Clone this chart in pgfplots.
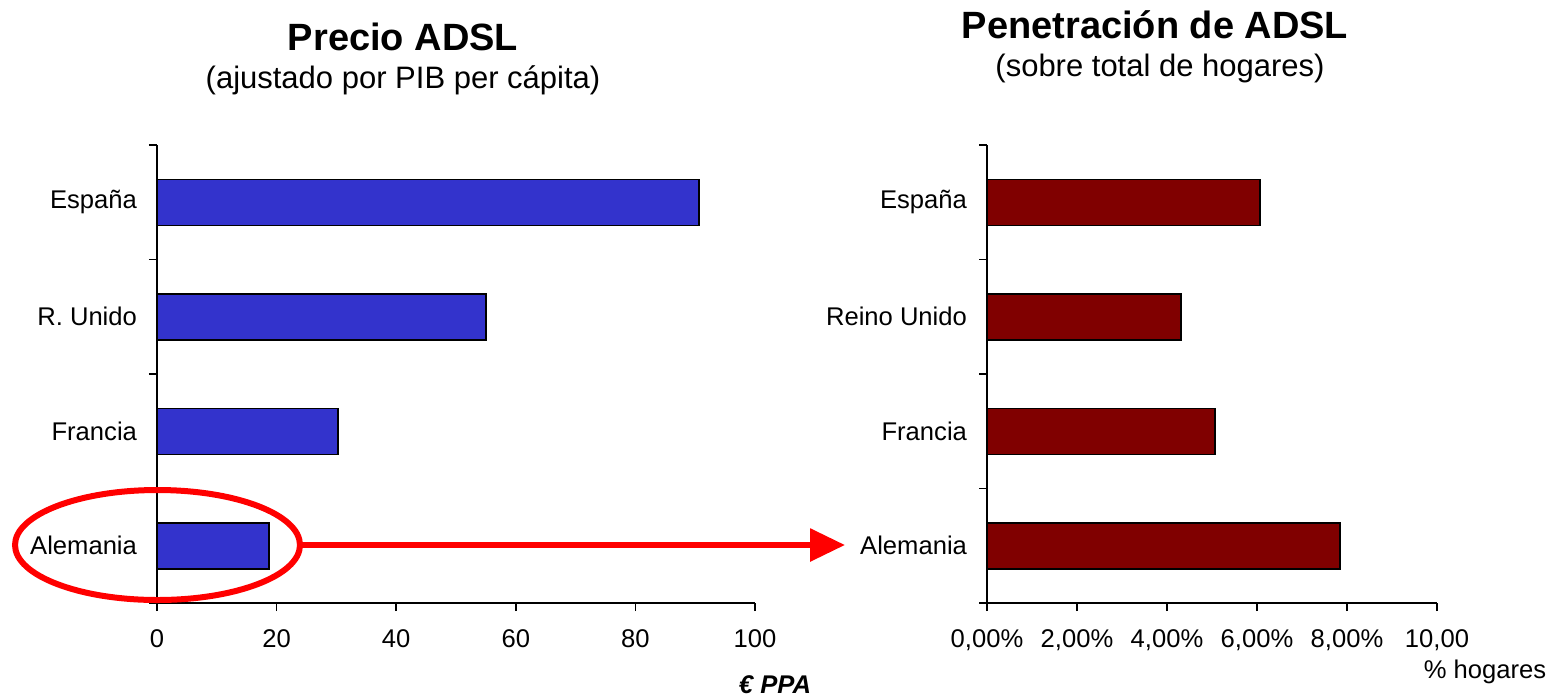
\documentclass[border=0pt]{standalone}
\usepackage{fontspec}
\setmainfont{Liberation Sans}
\usepackage{pgfplots}
\pgfplotsset{compat=1.18}
\usetikzlibrary{arrows.meta}
\definecolor{barblue}{RGB}{51,51,204}
\definecolor{barred}{RGB}{128,0,0}
\pgfplotsset{
  mystyle/.style={
    scale only axis, height=229pt,
    xbar, bar width=23pt,
    axis x line*=bottom, axis y line*=left,
    ymin=-0.5, ymax=3.5,
    ytick={0,1,2,3},
    minor ytick={-0.5,0.5,1.5,2.5,3.5},
    major y tick style={draw=none},
    tick align=outside,
    major tick length=4pt, minor tick length=4pt,
    axis line style={line width=0.8pt, black},
    every tick/.style={line width=0.8pt, black},
    tick label style={font=\fontsize{12.8}{15}\selectfont},
    xticklabel style={yshift=-6pt},
    yticklabel style={xshift=-2.5pt},
    /pgf/number format/assume math mode=true,
    clip=false,
  }
}
\begin{document}
\begin{tikzpicture}[x=1pt,y=1pt]
\useasboundingbox (0,0) rectangle (781.5,-348.5);
% left chart
\begin{axis}[mystyle, width=299pt, at={(78.5pt,-301.5pt)}, anchor=south west,
  xmin=0, xmax=100, xtick={0,20,40,60,80,100},
  yticklabels={Alemania,Francia,R. Unido,España}]
\addplot[fill=barblue, draw=black, line width=0.75pt] coordinates {(18.7,0) (30.3,1) (55.0,2) (90.6,3)};
\end{axis}
% right chart
\begin{axis}[mystyle, width=225pt, at={(493.5pt,-301.5pt)}, anchor=south west,
  xmin=0, xmax=10, xtick={0,2,4,6,8,10},
  xticklabels={{0,00\%},{2,00\%},{4,00\%},{6,00\%},{8,00\%},{10,00}},
  yticklabels={Alemania,Francia,Reino Unido,España}]
\addplot[fill=barred, draw=black, line width=0.75pt] coordinates {(7.84,0) (5.07,1) (4.31,2) (6.07,3)};
\end{axis}
% titles
\node[font=\fontsize{19}{22}\selectfont\bfseries] at (201.5,-18.5) {Precio ADSL};
\node[font=\fontsize{15.5}{18}\selectfont] at (201.5,-40) {(ajustado por PIB per cápita)};
\node[font=\fontsize{19}{22}\selectfont\bfseries] at (577.5,-12.5) {Penetración de ADSL};
\node[font=\fontsize{15.5}{18}\selectfont] at (580,-34) {(sobre total de hogares)};
% axis unit labels
\node[font=\fontsize{12.8}{15}\selectfont\bfseries\itshape] at (387.5,-342.5) {€ PPA};
\node[font=\fontsize{12.8}{15}\selectfont] at (742.5,-336) {\% hogares};
% annotation
\draw[red, line width=3pt] (78.75,-272.5) ellipse [x radius=71.25, y radius=27.5];
\draw[red, line width=3pt, -{Triangle[length=17.5pt, width=16pt]}] (150,-272.5) -- (422.5,-272.5);
\end{tikzpicture}
\end{document}
